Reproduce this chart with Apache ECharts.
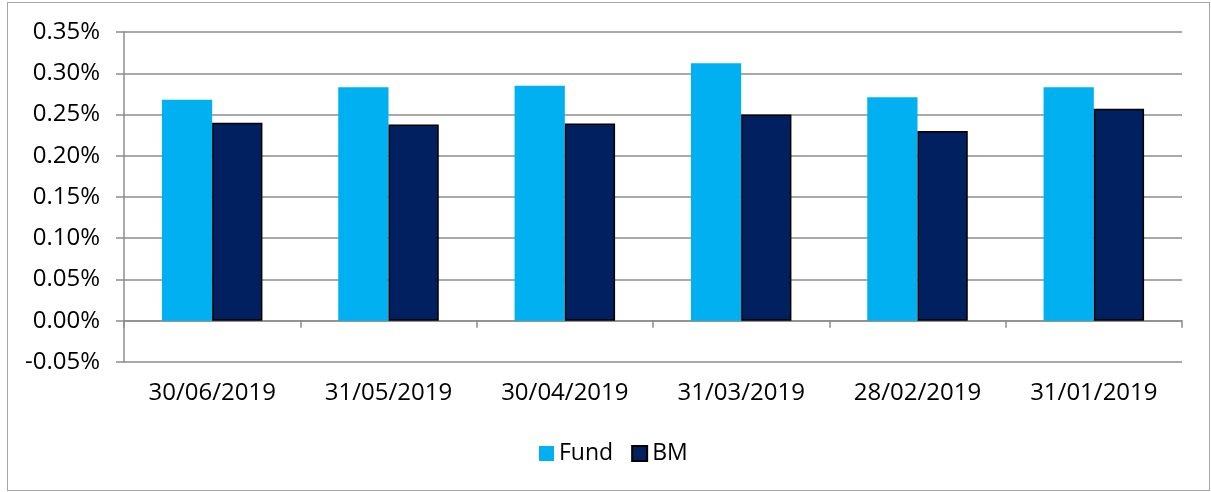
<!DOCTYPE html>
<html>
<head>
<meta charset="utf-8">
<script src="https://cdn.jsdelivr.net/npm/echarts@6/dist/echarts.min.js"></script>
<style>
  html, body { margin: 0; padding: 0; background: #fff; }
  #frame { position: absolute; left: 7px; top: 2px; width: 1201px; height: 487px; border: 1.5px solid #a6a6a6; }
  #chart { position: absolute; left: 0; top: 0; width: 1211px; height: 492px; }
</style>
</head>
<body>
<div id="frame"></div>
<div id="chart"></div>
<script>
var categories = ['30/06/2019', '31/05/2019', '30/04/2019', '31/03/2019', '28/02/2019', '31/01/2019'];
var fundValues = [0.268, 0.283, 0.285, 0.312, 0.271, 0.283];
var bmValues = [0.240, 0.238, 0.239, 0.250, 0.230, 0.257];
var yTicks = [-0.05, 0, 0.05, 0.10, 0.15, 0.20, 0.25, 0.30, 0.35];

var FONT = 'Open Sans';
var GRID_COLOR = '#8c8c8c';

var option = {
  backgroundColor: 'rgba(0,0,0,0)',
  animation: false,
  grid: { left: 124, right: 29, top: 32, bottom: 130 },
  legend: {
    data: ['Fund', 'BM'],
    icon: 'rect',
    left: 534, top: 437,
    itemWidth: 15, itemHeight: 15, itemGap: 18,
    textStyle: { fontFamily: FONT, fontSize: 23, color: '#000' }
  },
  xAxis: [
    {
      type: 'category',
      data: categories,
      axisLine: { onZero: true, lineStyle: { color: GRID_COLOR, width: 1.5 } },
      axisTick: { show: true, length: 7, inside: false, lineStyle: { color: GRID_COLOR, width: 1.5 } },
      axisLabel: { show: false }
    },
    {
      type: 'category',
      data: categories,
      position: 'bottom',
      axisLine: { show: false, onZero: false },
      axisTick: { show: false },
      axisLabel: { show: true, margin: 19, fontFamily: FONT, fontSize: 24, color: '#000' }
    }
  ],
  yAxis: {
    type: 'value',
    min: yTicks[0],
    max: yTicks[yTicks.length - 1],
    interval: 0.05,
    axisLine: { show: true, lineStyle: { color: GRID_COLOR, width: 1.5 } },
    axisTick: { show: true, length: 8, lineStyle: { color: GRID_COLOR, width: 1.5 } },
    splitLine: { show: true, lineStyle: { color: GRID_COLOR, width: 1.5 } },
    axisLabel: {
      margin: 24, fontFamily: FONT, fontSize: 24, color: '#000',
      formatter: function (v) { return v.toFixed(2) + '%'; }
    }
  },
  series: [
    {
      name: 'Fund', type: 'bar', xAxisIndex: 0,
      data: fundValues,
      barGap: '0%', barCategoryGap: '43%',
      itemStyle: { color: '#00B0F0' }
    },
    {
      name: 'BM', type: 'bar', xAxisIndex: 0,
      data: bmValues,
      barGap: '0%', barCategoryGap: '43%',
      itemStyle: { color: '#002060', borderColor: '#000', borderWidth: 1.5 }
    }
  ]
};

var myChart = echarts.init(document.getElementById('chart'), null, { renderer: 'canvas' });
myChart.setOption(option);
</script>
</body>
</html>
